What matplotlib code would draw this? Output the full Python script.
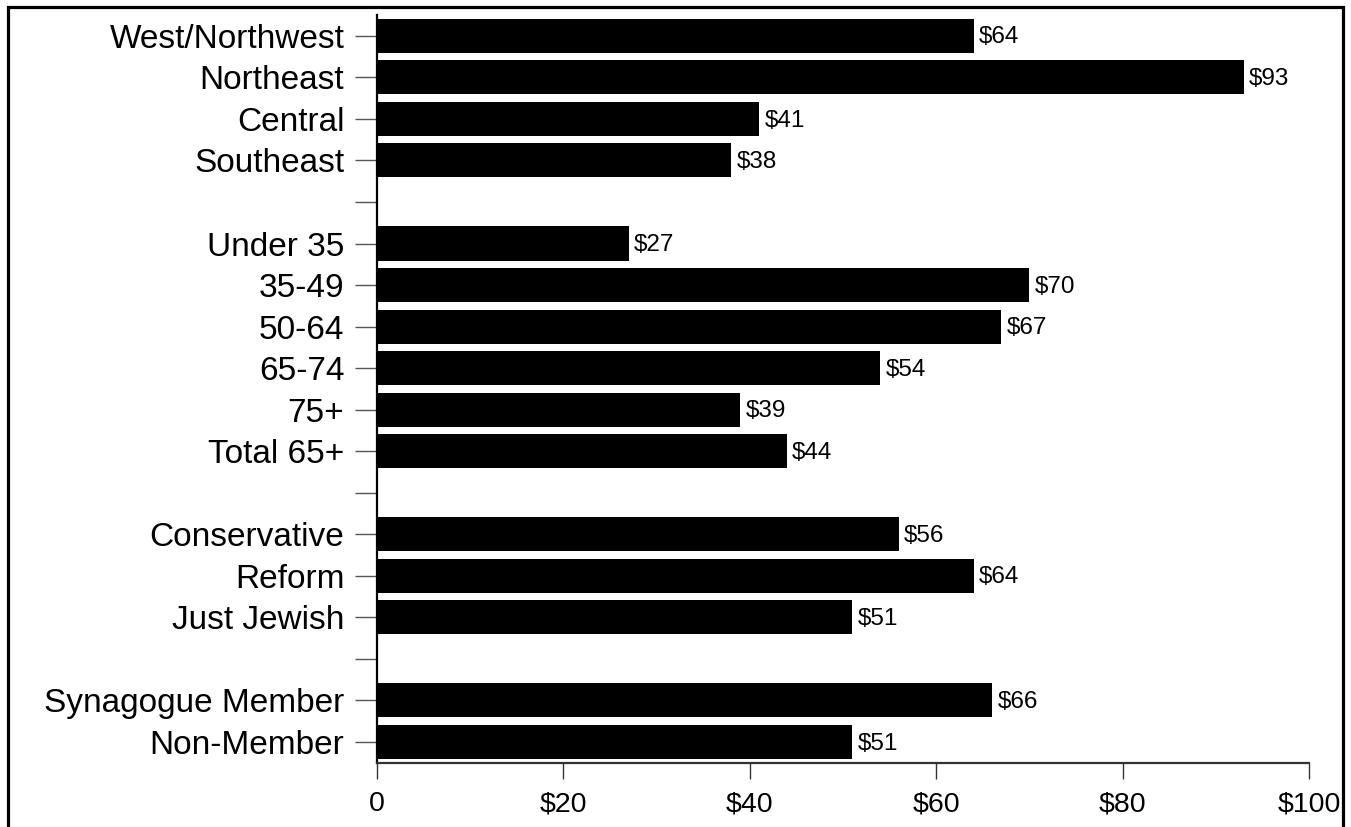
"""Average gift by region, age, denomination and membership."""

import matplotlib

matplotlib.use("Agg")
import matplotlib.pyplot as plt
from matplotlib.lines import Line2D
from matplotlib.ticker import FuncFormatter

# Groups are separated by an empty slot on the category axis
regions = ["West/Northwest", "Northeast", "Central", "Southeast"]
region_vals = [64, 93, 41, 38]

ages = ["Under 35", "35-49", "50-64", "65-74", "75+", "Total 65+"]
age_vals = [27, 70, 67, 54, 39, 44]

denominations = ["Conservative", "Reform", "Just Jewish"]
denomination_vals = [56, 64, 51]

membership = ["Synagogue Member", "Non-Member"]
membership_vals = [66, 51]

x_ticks = [0, 20, 40, 60, 80, 100]


def build_rows():
    labels, values = [], []
    groups = [
        (regions, region_vals),
        (ages, age_vals),
        (denominations, denomination_vals),
        (membership, membership_vals),
    ]
    for i, (cats, vals) in enumerate(groups):
        if i > 0:
            labels.append("")
            values.append(None)
        labels.extend(cats)
        values.extend(vals)
    return labels, values


def main():
    plt.rcParams["font.family"] = ["Liberation Sans", "DejaVu Sans"]

    labels, values = build_rows()
    n = len(labels)

    fig = plt.figure(figsize=(13.51, 8.27), dpi=100)
    ax = fig.add_axes([0.279, 0.0777, 0.690, 0.9041])

    for pos, val in enumerate(values):
        if val is None:
            continue
        ax.barh(pos, val, height=0.82, color="black", edgecolor="none")
        ax.text(val + 0.55, pos + 0.04, f"${val}", va="center", ha="left", fontsize=17.5)

    ax.set_ylim(n - 0.5, -0.5)
    ax.set_xlim(0, 100)
    ax.set_yticks(range(n))
    ax.set_yticklabels(labels, fontsize=24)
    ax.set_xticks(x_ticks)
    ax.xaxis.set_major_formatter(FuncFormatter(lambda v, _: "0" if v == 0 else f"${v:.0f}"))
    ax.tick_params(axis="x", labelsize=20.5, length=11.5, width=1.0, color="#333333", pad=9)
    ax.tick_params(axis="y", length=15.5, width=1.0, color="#555555", pad=8)

    for side in ("top", "right"):
        ax.spines[side].set_visible(False)
    ax.spines["left"].set_linewidth(1.6)
    ax.spines["left"].set_color("black")
    ax.spines["bottom"].set_linewidth(1.6)
    ax.spines["bottom"].set_color("#333333")

    # Frame around the whole figure (bottom edge sits just off the canvas)
    W, H = 1351, 827
    frame_x = [7.5 / W, 7.5 / W, 1342.5 / W, 1342.5 / W]
    frame_y = [-0.02, 1 - 6.5 / H, 1 - 6.5 / H, -0.02]
    fig.add_artist(Line2D(frame_x, frame_y, color="black", linewidth=2.3,
                          transform=fig.transFigure, solid_joinstyle="miter"))

    fig.savefig("out.png", dpi=100, facecolor="white")
    plt.close(fig)


if __name__ == "__main__":
    main()
